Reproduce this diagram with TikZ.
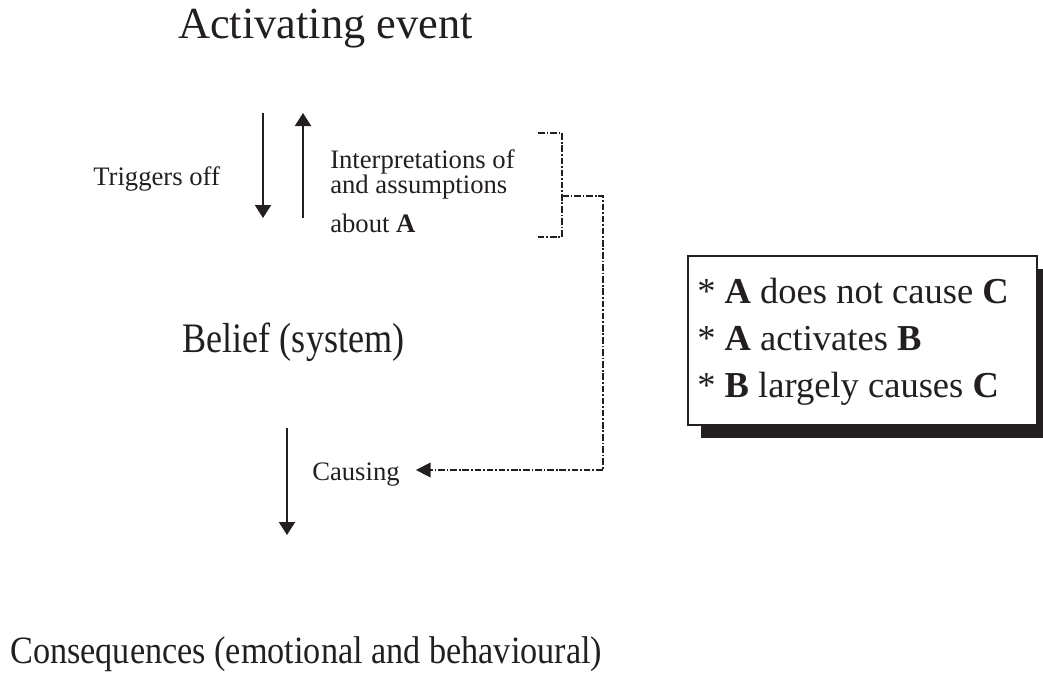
\documentclass[tikz,border=0pt]{standalone}
\usepackage{fontspec}
\usepackage{graphicx}
\setmainfont{Liberation Serif}
\usetikzlibrary{arrows.meta,shadows,calc}
\definecolor{ink}{HTML}{231F20}
\begin{document}
\begin{tikzpicture}[x=0.75pt,y=-0.75pt,
  every node/.style={inner sep=0pt, text=ink},
  flow/.style={draw=ink, line width=1.5pt, -{Triangle[length=9.75pt,width=12pt]}},
  link/.style={draw=ink, line width=1.25pt, dash pattern=on 5pt off 1.4pt on 1.3pt off 1.4pt},
  linkarrow/.style={link, -{Triangle[length=11pt,width=11pt]}},
  big/.style={font=\fontsize{33.3}{38}\selectfont},
  small/.style={font=\fontsize{20}{24}\selectfont},
  summary/.style={draw=ink, line width=1.5pt, fill=white, anchor=north west,
    minimum width=261.75pt, minimum height=126.75pt,
    drop shadow={shadow xshift=9.75pt, shadow yshift=-9.75pt, fill=ink, opacity=1}},
  point/.style={anchor=base west, font=\fontsize{27.4}{33}\selectfont},
]
\useasboundingbox (0,0) rectangle (1043,676);

% the three stages
\node[big, anchor=base] (act) at (325.5,38) {Activating event};
\node[anchor=base, font=\fontsize{31.5}{36}\selectfont] (bel) at (293.5,352)
  {\scalebox{0.86}[1]{Belief (system)}};
\node[anchor=base west, font=\fontsize{29}{34}\selectfont] (con) at (10,663)
  {\scalebox{0.885}[1]{Consequences (emotional and behavioural)}};

% labels beside the arrows
\node[small, anchor=base west] (trig) at (93,185) {Triggers off};
\node[small, anchor=base west] (int1) at (330,168) {Interpretations of};
\node[small, anchor=base west] (int2) at (330,193) {and assumptions};
\node[small, anchor=base west] (int3) at (330,232) {about \textbf{A}};
\node[small, anchor=base west] (caus) at (312,480) {Causing};

% arrow end points
\coordinate (downTop) at (263,113);
\coordinate (downEnd) at (263,218);
\coordinate (upBot) at (303,218);
\coordinate (upEnd) at (303,113);
\coordinate (causTop) at (287,428);
\coordinate (causEnd) at (287,535);

\draw[flow] (downTop) -- (downEnd);
\draw[flow] (upBot) -- (upEnd);
\draw[flow] (causTop) -- (causEnd);

% bracket round the interpretations and its link to "Causing"
\coordinate (brT) at (538,133);
\coordinate (brTR) at (562,133);
\coordinate (brBR) at (562,237);
\coordinate (brB) at (538,237);
\coordinate (brM) at (562,196);
\coordinate (brR) at (603,196);
\coordinate (causIn) at ($(caus.base east)+(16,-10)$);

\draw[link] (brT) -- (brTR) -- (brBR) -- (brB);
\draw[linkarrow] (brM) -- (brR) |- (causIn);

% summary box and its three statements
\node[summary] (sum) at (687,255) {};
\node[point] (p1) at (697,303) {* \textbf{A} does not cause \textbf{C}};
\node[point] (p2) at (697,350) {* \textbf{A} activates \textbf{B}};
\node[point] (p3) at (697,397) {* \textbf{B} largely causes \textbf{C}};
\end{tikzpicture}
\end{document}
